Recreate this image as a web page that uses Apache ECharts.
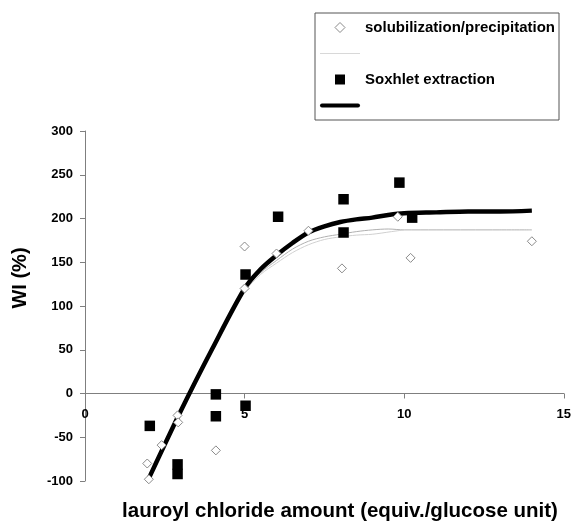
<!DOCTYPE html>
<html>
<head>
<meta charset="utf-8">
<script src="https://cdn.jsdelivr.net/npm/echarts@6/dist/echarts.min.js"></script>
<style>html,body{margin:0;padding:0;background:#fff}#c{width:574px;height:527px}</style>
</head>
<body>
<div id="c"></div>
<script>
// --- data ---
const solubX = [2.0, 1.95, 2.4, 2.9, 2.92, 4.1, 5.0, 5.0, 6.0, 7.0, 8.05, 9.8, 10.2, 14.0];
const solubY = [-98, -80, -59, -25, -33, -65, 168, 120, 160, 186, 143, 202, 155, 174];

const soxX = [2.03, 2.9, 2.9, 4.1, 4.1, 5.03, 5.03, 6.05, 8.1, 8.1, 9.85, 10.25];
const soxY = [-37, -81, -92, -1, -26, -14, 136, 202, 222, 184, 241, 201];

const soxFitX = [2.0, 3.0, 4.0, 5.0, 5.5, 6.0, 6.5, 7.0, 7.5, 8.0, 8.5, 9.0, 9.5, 10.0, 11.0, 12.0, 13.0, 14.0];
const soxFitY = [-97, -20, 52, 120, 142, 158, 172, 184, 191, 196, 199, 201, 204, 206, 207, 208, 208, 209];

const solFit1X = [2.0, 3.0, 4.0, 5.0, 5.5, 6.0, 6.5, 7.0, 7.5, 8.0, 8.5, 9.0, 9.5, 10.0, 11.0, 12.0, 13.0, 14.0];
const solFit1Y = [-99, -21, 50, 118, 138, 152, 165, 174, 179, 182, 185, 187, 188, 187, 187, 187, 187, 187];

const solFit2X = [2.0, 3.0, 4.0, 5.0, 5.5, 6.0, 6.5, 7.0, 7.5, 8.0, 8.5, 9.0, 9.6, 10.0];
const solFit2Y = [-99, -21, 50, 116, 136, 149, 161, 170, 176, 179, 181, 182, 185, 187];

const xTicks = { min: 0, max: 15, interval: 5 };
const yTicks = { min: -100, max: 300, interval: 50 };

const xTitle = 'lauroyl chloride amount (equiv./glucose unit)';
const yTitle = 'WI (%)';
const nameSolub = 'solubilization/precipitation';
const nameSolubFit = 'solubilization/precipitation fit';
const nameSox = 'Soxhlet extraction';
const nameSoxFit = 'Soxhlet extraction fit';

const zip = (xs, ys) => xs.map((x, i) => [x, ys[i]]);
const FONT = '"Liberation Sans", Arial, sans-serif';

const GRID_TOP = 131, GRID_BOTTOM_PX = 481;
const zeroOffset = -(GRID_BOTTOM_PX - GRID_TOP) * (0 - yTicks.min) / (yTicks.max - yTicks.min);

const chart = echarts.init(document.getElementById('c'), null, { renderer: 'canvas' });
chart.setOption({
  animation: false,
  backgroundColor: '#fff',
  grid: { left: 85, right: 9, top: GRID_TOP, bottom: 527 - GRID_BOTTOM_PX, containLabel: false },
  xAxis: {
    type: 'value', min: xTicks.min, max: xTicks.max, interval: xTicks.interval,
    offset: zeroOffset,
    axisLine: { show: true, onZero: false, lineStyle: { color: '#7f7f7f', width: 1 } },
    axisTick: { show: true, length: 5, lineStyle: { color: '#7f7f7f' } },
    splitLine: { show: false },
    axisLabel: { color: '#000', fontFamily: FONT, fontWeight: 'bold', fontSize: 13, margin: 14 }
  },
  yAxis: {
    type: 'value', min: yTicks.min, max: yTicks.max, interval: yTicks.interval,
    axisLine: { show: true, onZero: false, lineStyle: { color: '#7f7f7f', width: 1 } },
    axisTick: { show: true, length: 5, lineStyle: { color: '#7f7f7f' } },
    splitLine: { show: false },
    axisLabel: { color: '#000', fontFamily: FONT, fontWeight: 'bold', fontSize: 13, margin: 12 }
  },
  legend: {
    orient: 'vertical', left: 315, top: 13,
    padding: [7, 4, 7, 5], itemGap: 11, itemWidth: 40, itemHeight: 10,
    symbolKeepAspect: true,
    borderColor: '#555', borderWidth: 1, backgroundColor: '#fff',
    textStyle: { color: '#000', fontFamily: FONT, fontWeight: 'bold', fontSize: 15 },
    formatter: n => (n.indexOf(' fit') >= 0 ? ' ' : n),
    data: [
      { name: nameSolub, icon: 'path://M4,0L8,4L4,8L0,4Z',
        itemStyle: { color: '#fff', borderColor: '#8a8a8a', borderWidth: 1 } },
      { name: nameSolubFit, icon: 'path://M0,0H40V1H0Z',
        itemStyle: { color: '#d8d8d8', borderWidth: 0 } },
      { name: nameSox, icon: 'path://M0,0H10V10H0Z',
        itemStyle: { color: '#000', borderWidth: 0 } },
      { name: nameSoxFit, icon: 'path://M2,0H38A2,2 0 0 1 38,4H2A2,2 0 0 1 2,0Z',
        itemStyle: { color: '#000', borderWidth: 0 } }
    ]
  },
  graphic: [
    { type: 'text', x: 340, y: 511,
      style: { text: xTitle, fill: '#000', font: 'bold 20.5px ' + FONT, align: 'center', verticalAlign: 'middle' } },
    { type: 'text', x: 20, y: 278, rotation: Math.PI / 2,
      style: { text: yTitle, fill: '#000', font: 'bold 20px ' + FONT, align: 'center', verticalAlign: 'middle' } }
  ],
  series: [
    { name: nameSolubFit, type: 'line', data: zip(solFit1X, solFit1Y), smooth: 0.3, symbol: 'none',
      lineStyle: { color: '#b0b0b0', width: 1 }, itemStyle: { color: '#c8c8c8' }, z: 2 },
    { name: 'solFit2', type: 'line', data: zip(solFit2X, solFit2Y), smooth: 0.3, symbol: 'none',
      lineStyle: { color: '#d0d0d0', width: 1 }, z: 2 },
    { name: nameSoxFit, type: 'line', data: zip(soxFitX, soxFitY), smooth: 0.3, symbol: 'none',
      lineStyle: { color: '#000', width: 4.5 }, itemStyle: { color: '#000' }, z: 3 },
    { name: nameSolub, type: 'scatter', data: zip(solubX, solubY), symbol: 'diamond', symbolSize: 9,
      itemStyle: { color: '#fff', borderColor: '#8a8a8a', borderWidth: 1, opacity: 1 }, z: 4 },
    { name: nameSox, type: 'scatter', data: zip(soxX, soxY), symbol: 'rect', symbolSize: 10.5,
      itemStyle: { color: '#000', opacity: 1 }, z: 5 }
  ]
});
</script>
</body>
</html>
